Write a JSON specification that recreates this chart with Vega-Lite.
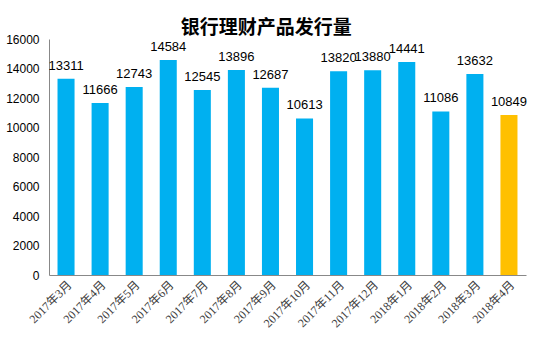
{
  "$schema": "https://vega.github.io/schema/vega-lite/v6.json",
  "width": 477,
  "height": 236,
  "autosize": {"type": "none"},
  "padding": {"left": 49, "top": 39, "right": 34, "bottom": 77},
  "background": "white",
  "title": {
    "text": "银行理财产品发行量",
    "font": "Noto Sans CJK SC",
    "fontSize": 19,
    "fontWeight": "bold",
    "color": "#000000",
    "anchor": "middle",
    "offset": -5,
    "frame": "bounds"
  },
  "data": {
    "values": [
      {"month": "2017年3月", "value": 13311, "type": "a"},
      {"month": "2017年4月", "value": 11666, "type": "a"},
      {"month": "2017年5月", "value": 12743, "type": "a"},
      {"month": "2017年6月", "value": 14584, "type": "a"},
      {"month": "2017年7月", "value": 12545, "type": "a"},
      {"month": "2017年8月", "value": 13896, "type": "a"},
      {"month": "2017年9月", "value": 12687, "type": "a"},
      {"month": "2017年10月", "value": 10613, "type": "a"},
      {"month": "2017年11月", "value": 13820, "type": "a"},
      {"month": "2017年12月", "value": 13880, "type": "a"},
      {"month": "2018年1月", "value": 14441, "type": "a"},
      {"month": "2018年2月", "value": 11086, "type": "a"},
      {"month": "2018年3月", "value": 13632, "type": "a"},
      {"month": "2018年4月", "value": 10849, "type": "b"}
    ]
  },
  "encoding": {
    "x": {
      "field": "month",
      "type": "nominal",
      "sort": null,
      "scale": {"paddingInner": 0.5, "paddingOuter": 0.25},
      "axis": {
        "title": null,
        "labelAngle": -45,
        "labelAlign": "right",
        "labelBaseline": "top",
        "labelFont": "Liberation Serif, Noto Sans CJK SC",
        "labelFontSize": 12,
        "labelColor": "#404040",
        "labelPadding": 4,
        "ticks": false,
        "domainColor": "#888888"
      }
    },
    "y": {
      "field": "value",
      "type": "quantitative",
      "scale": {"domain": [0, 16000], "nice": false},
      "axis": {
        "title": null,
        "values": [0, 2000, 4000, 6000, 8000, 10000, 12000, 14000, 16000],
        "format": "d",
        "grid": false,
        "ticks": false,
        "labelFont": "Liberation Sans",
        "labelFontSize": 12,
        "labelColor": "#000000",
        "labelPadding": 10,
        "domainColor": "#888888"
      }
    }
  },
  "layer": [
    {
      "mark": {"type": "bar"},
      "encoding": {
        "color": {
          "field": "type",
          "type": "nominal",
          "scale": {"domain": ["a", "b"], "range": ["#00B0F0", "#FFC000"]},
          "legend": null
        }
      }
    },
    {
      "mark": {
        "type": "text",
        "baseline": "bottom",
        "dy": -6,
        "font": "Liberation Sans",
        "fontSize": 13,
        "color": "#000000"
      },
      "encoding": {"text": {"field": "value", "type": "quantitative", "format": "d"}}
    }
  ],
  "config": {"view": {"stroke": null}}
}
